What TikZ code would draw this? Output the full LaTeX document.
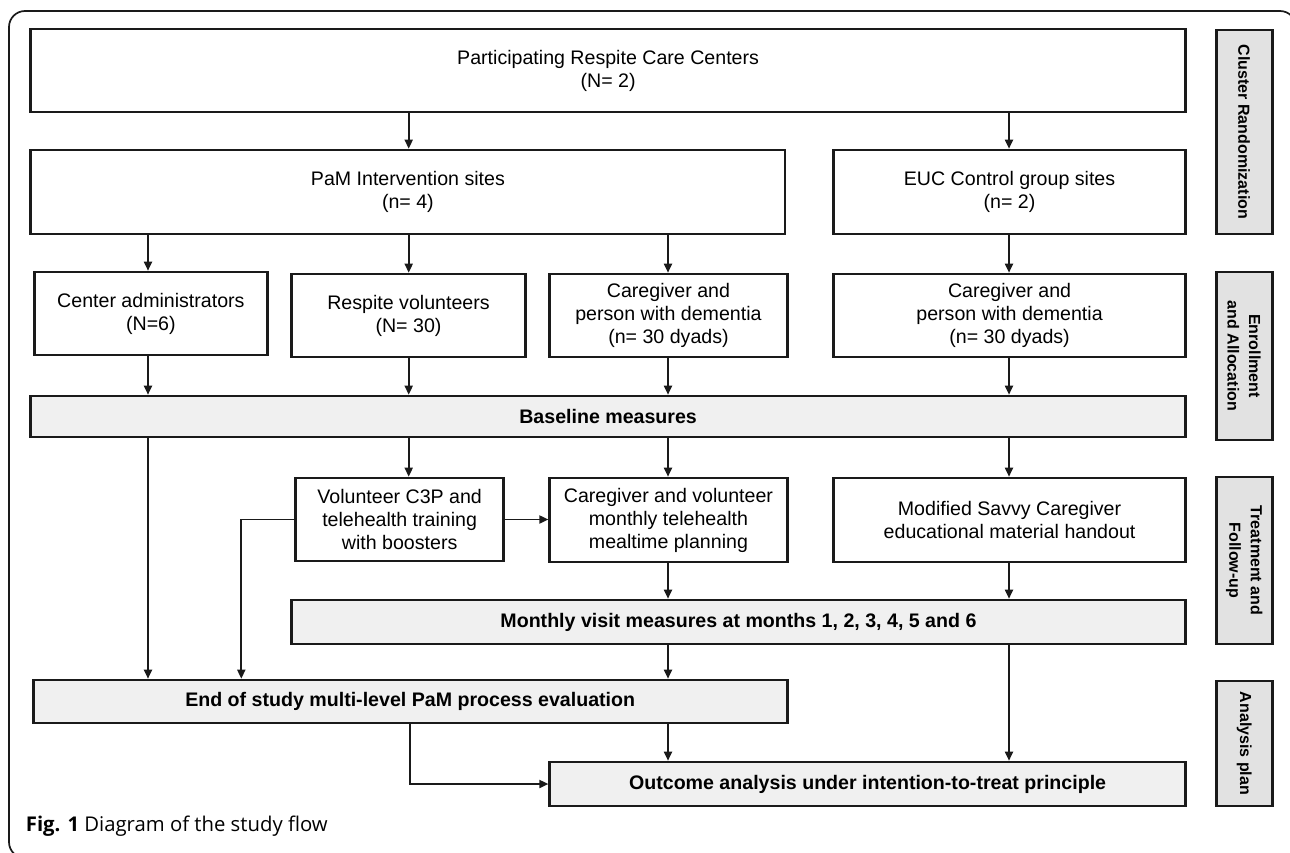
\documentclass[tikz,border=0pt]{standalone}
\usepackage{fontspec}
\setmainfont{Liberation Sans}
\newfontfamily\capfont{Open Sans}
\usetikzlibrary{arrows.meta,calc}
\definecolor{ln}{HTML}{1A1A1A}
\definecolor{lightg}{HTML}{F0F0F0}
\definecolor{sideg}{HTML}{E2E2E2}
\newcommand\bnode[7]{\node[#6, minimum width={(#4-#2)*1pt}, minimum height={(#5-#3)*1pt}] (#1) at ({(#2+#4)/2},{(#3+#5)/2}) {#7};}
\begin{document}
\begin{tikzpicture}[x=1pt,y=-1pt,
  box/.style={draw=ln, line width=2.6pt, fill=white, inner sep=0pt, align=center,
    font=\fontsize{19.6}{23}\selectfont},
  gbox/.style={box, fill=lightg, font=\fontsize{19.6}{23}\selectfont\bfseries},
  side/.style={draw=ln, line width=2.6pt, fill=sideg, inner sep=0pt, align=center, rotate=-90,
    font=\fontsize{16}{21.5}\selectfont\bfseries},
  arr/.style={draw=ln, line width=1.8pt, -{Triangle[length=9pt,width=8pt]}},
  conn/.style={draw=ln, line width=1.8pt}]
\useasboundingbox (0,0) rectangle (1290,852);
\begin{scope}
\clip (0,0) rectangle (1290,852);
\draw[ln, line width=1.7pt, rounded corners=16pt] (9,11) rectangle (1296,858);
\end{scope}

% main boxes
\bnode{top}{30.7}{29}{1185.5}{112}{box}{Participating Respite Care Centers\\(N= 2)}
\bnode{pam}{30.7}{150}{785.1}{234}{box}{PaM Intervention sites\\(n= 4)}
\bnode{euc}{833.6}{150}{1185.5}{234}{box}{EUC Control group sites\\(n= 2)}
\bnode{adm}{34.4}{272}{267.4}{355}{box}{Center administrators\\(N=6)}
\bnode{resp}{291.4}{274}{525.6}{357}{box}{Respite volunteers\\(N= 30)}
\bnode{cg1}{549.7}{274}{787.2}{357}{box}{Caregiver and\\person with dementia\\(n= 30 dyads)}
\bnode{cg2}{833.6}{274}{1185.5}{357}{box}{Caregiver and\\person with dementia\\(n= 30 dyads)}
\bnode{base}{30.7}{396}{1185.5}{437}{gbox}{Baseline measures}
\bnode{c3p}{295.6}{478}{503.7}{561}{box}{Volunteer C3P and\\telehealth training\\with boosters}
\bnode{cgv}{549.7}{478}{787.2}{562}{box}{Caregiver and volunteer\\monthly telehealth\\mealtime planning}
\bnode{savvy}{833.6}{478}{1185.5}{562}{box}{Modified Savvy Caregiver\\educational material handout}
\bnode{monthly}{291.4}{600}{1185.5}{644}{gbox}{Monthly visit measures at months 1, 2, 3, 4, 5 and 6}
\bnode{end}{33.2}{680}{787.2}{723}{gbox}{End of study multi-level PaM process evaluation}
\bnode{outcome}{549.7}{762}{1185.5}{806}{gbox}{Outcome analysis under intention-to-treat principle}

% side labels
\node[side, minimum width=204pt, minimum height=56pt] (s1) at (1244.2,132) {Cluster Randomization};
\node[side, minimum width=168pt, minimum height=56pt] (s2) at (1244.2,356) {Enrollment\\and Allocation};
\node[side, minimum width=167pt, minimum height=56pt] (s3) at (1244.2,560.5) {Treatment and\\Follow-up};
\node[side, minimum width=125pt, minimum height=56pt] (s4) at (1244.2,743.5) {Analysis plan};

% columns
\coordinate (cA) at (148,0);
\coordinate (cB) at (408.7,0);
\coordinate (cC) at (668,0);
\coordinate (cD) at (1009,0);
\coordinate (cE) at (241.3,0);

\draw[arr] (top.south -| cB) -- (pam.north -| cB);
\draw[arr] (top.south -| cD) -- (euc.north -| cD);
\draw[arr] (pam.south -| cA) -- (adm.north -| cA);
\draw[arr] (pam.south -| cB) -- (resp.north -| cB);
\draw[arr] (pam.south -| cC) -- (cg1.north -| cC);
\draw[arr] (euc.south -| cD) -- (cg2.north -| cD);
\draw[arr] (adm.south -| cA) -- (base.north -| cA);
\draw[arr] (resp.south -| cB) -- (base.north -| cB);
\draw[arr] (cg1.south -| cC) -- (base.north -| cC);
\draw[arr] (cg2.south -| cD) -- (base.north -| cD);
\draw[arr] (base.south -| cA) -- (end.north -| cA);
\draw[arr] (base.south -| cB) -- (c3p.north -| cB);
\draw[arr] (base.south -| cC) -- (cgv.north -| cC);
\draw[arr] (base.south -| cD) -- (savvy.north -| cD);
\draw[arr] (c3p.east) -- (cgv.west |- c3p.east);
\draw[arr] (c3p.west) -| (end.north -| cE);
\draw[arr] (cgv.south -| cC) -- (monthly.north -| cC);
\draw[arr] (savvy.south -| cD) -- (monthly.north -| cD);
\draw[arr] (monthly.south -| cC) -- (end.north -| cC);
\draw[arr] (monthly.south -| cD) -- (outcome.north -| cD);
\draw[arr] (end.south -| cC) -- (outcome.north -| cC);
\draw[arr] (end.south) |- (outcome.west);

% caption
\node[anchor=base west, inner sep=0pt, font=\capfont\fontsize{20.3}{23}\selectfont] (cap) at (25.7,831)
  {\textbf{Fig. 1} Diagram of the study flow};
\end{tikzpicture}
\end{document}
